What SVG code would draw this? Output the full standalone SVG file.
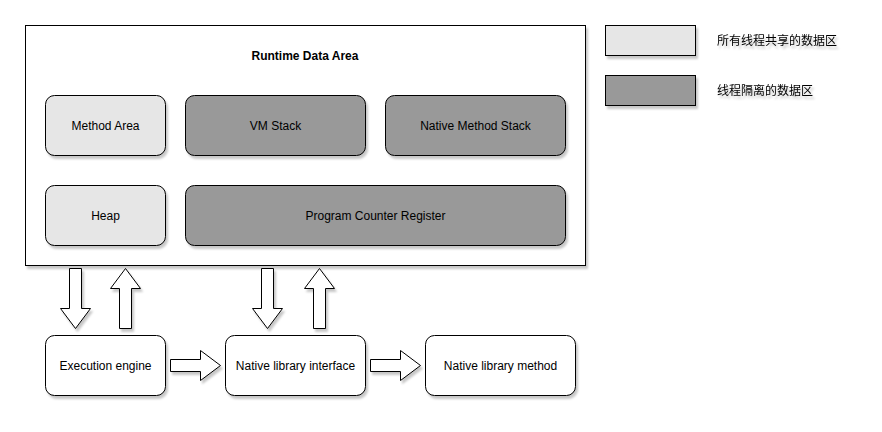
<svg xmlns="http://www.w3.org/2000/svg" width="882" height="432" viewBox="0 0 882 432">
<defs>
<filter id="sh" x="-10%" y="-10%" width="130%" height="140%">
<feDropShadow dx="2" dy="3" stdDeviation="1.2" flood-color="#000" flood-opacity="0.22"/>
</filter>
<style>
.box{stroke:#000;stroke-width:1;filter:url(#sh)}
.light{fill:#E6E6E6}
.dark{fill:#999999}
.white{fill:#fff}
.t{font-family:"Liberation Sans",Arial,sans-serif;font-size:12px;fill:#000;text-anchor:middle;dominant-baseline:central}
.b{font-weight:bold}
.cn{font-family:"Liberation Sans","Noto Sans CJK SC",sans-serif;font-size:12px;fill:#000;dominant-baseline:central;filter:url(#sh)}
.arr{fill:#fff;stroke:#000;stroke-width:1;stroke-linejoin:miter;filter:url(#sh)}
</style>
</defs>
<rect width="882" height="432" fill="#fff"/>
<g id="runtime-data-area">
<rect class="box white" x="25.5" y="25.5" width="560" height="240"/>
<text class="t b" x="305" y="56">Runtime Data Area</text>
</g>
<g id="method-area">
<rect class="box light" x="45.5" y="95.5" width="120" height="60" rx="9"/>
<text class="t" x="105.5" y="126">Method Area</text>
</g>
<g id="vm-stack">
<rect class="box dark" x="185.5" y="95.5" width="180" height="60" rx="9"/>
<text class="t" x="275.5" y="126">VM Stack</text>
</g>
<g id="native-method-stack">
<rect class="box dark" x="385.5" y="95.5" width="180" height="60" rx="9"/>
<text class="t" x="475.5" y="126">Native Method Stack</text>
</g>
<g id="heap">
<rect class="box light" x="45.5" y="185.5" width="120" height="60" rx="9"/>
<text class="t" x="105.5" y="216">Heap</text>
</g>
<g id="program-counter-register">
<rect class="box dark" x="185.5" y="185.5" width="380" height="60" rx="9"/>
<text class="t" x="375.5" y="216">Program Counter Register</text>
</g>
<g id="execution-engine">
<rect class="box white" x="45.5" y="335.5" width="120" height="60" rx="9"/>
<text class="t" x="105.5" y="366">Execution engine</text>
</g>
<g id="native-library-interface">
<rect class="box white" x="225.5" y="335.5" width="140" height="60" rx="9"/>
<text class="t" x="295.5" y="366">Native library interface</text>
</g>
<g id="native-library-method">
<rect class="box white" x="425.5" y="335.5" width="150" height="60" rx="9"/>
<text class="t" x="500.5" y="366">Native library method</text>
</g>
<g id="legend-shared">
<rect class="box light" x="605.5" y="25.5" width="90" height="30"/>
<text class="cn" x="717" y="41">所有线程共享的数据区</text>
</g>
<g id="legend-isolated">
<rect class="box dark" x="605.5" y="75.5" width="90" height="30"/>
<text class="cn" x="717" y="91">线程隔离的数据区</text>
</g>
<g id="connectors">
<path class="arr" d="M69.5,268.5 H81.5 V308.5 H90.5 L75.5,328.5 L60.5,308.5 H69.5 Z"/>
<path class="arr" d="M119.5,328.5 H131.5 V288.5 H140.5 L125.5,268.5 L110.5,288.5 H119.5 Z"/>
<path class="arr" d="M261.5,268.5 H273.5 V308.5 H282.5 L267.5,328.5 L252.5,308.5 H261.5 Z"/>
<path class="arr" d="M313.5,328.5 H325.5 V288.5 H334.5 L319.5,268.5 L304.5,288.5 H313.5 Z"/>
<path class="arr" d="M170.5,359.5 V371.5 H200.5 V380.5 L220.5,365.5 L200.5,350.5 V359.5 Z"/>
<path class="arr" d="M370.5,359.5 V371.5 H400.5 V380.5 L420.5,365.5 L400.5,350.5 V359.5 Z"/>
</g>
</svg>
